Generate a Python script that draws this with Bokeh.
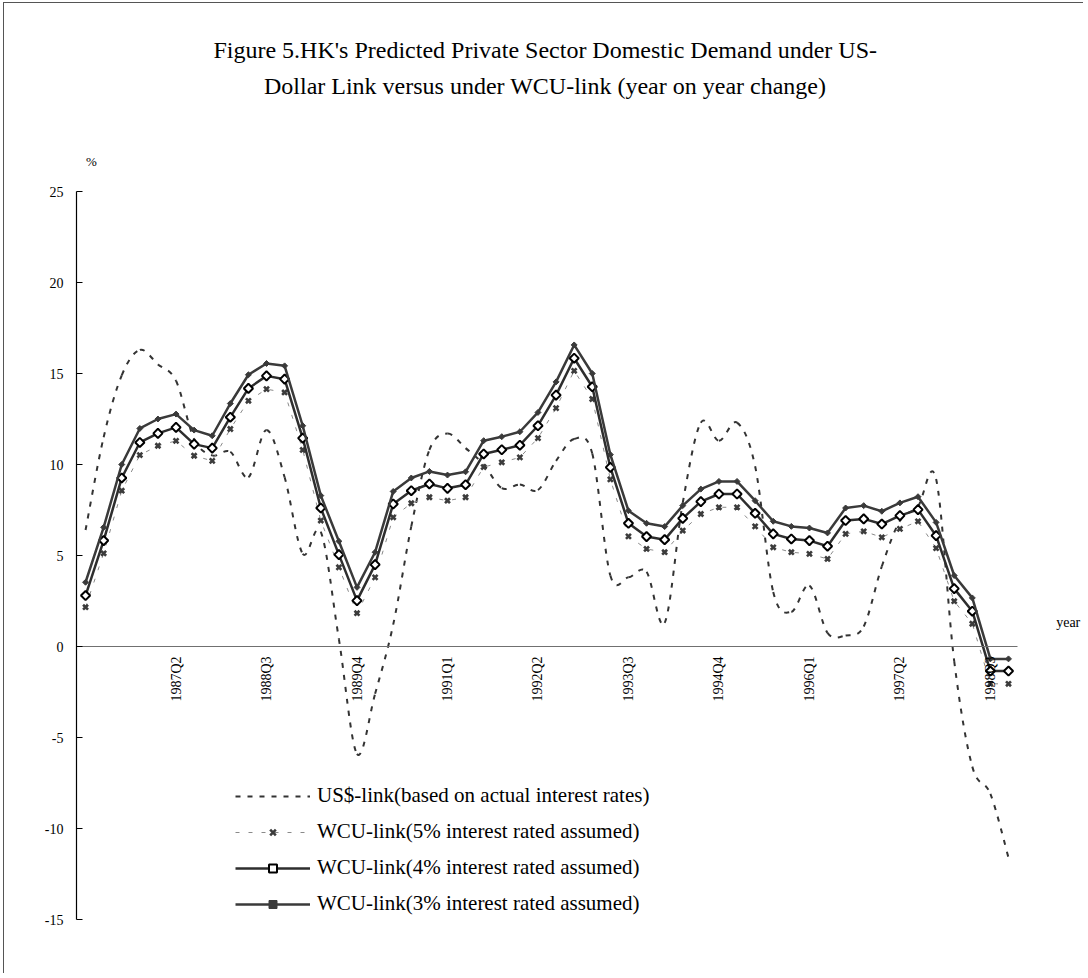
import math
from bokeh.plotting import figure
from bokeh.models import Range1d, FixedTicker, Label, Legend, LegendItem, ColumnDataSource
from bokeh.embed import file_html
from bokeh.resources import INLINE

# ---------------- data ----------------
quarters = [f"{yr}Q{q}" for yr in range(1986, 1999) for q in range(1, 5)]  # 1986Q1 .. 1998Q4

tick_labels = ["1987Q2", "1988Q3", "1989Q4", "1991Q1", "1992Q2",
               "1993Q3", "1994Q4", "1996Q1", "1997Q2", "1998Q3"]

us_link = [6.4, 11.5, 14.9, 16.3, 15.5, 14.6, 11.4, 10.5, 10.7, 9.3,
           11.9, 9.3, 5.1, 6.3, 0.4, -5.9, -2.6, 1.2, 6.6, 10.8,
           11.7, 10.9, 10.0, 8.7, 8.9, 8.6, 10.2, 11.4, 10.6, 3.9,
           3.8, 4.1, 1.3, 7.9, 12.3, 11.3, 12.3, 9.9, 3.0, 1.9,
           3.35, 0.75, 0.6, 1.1, 4.4, 6.9, 7.7, 9.2, -0.8, -6.6,
           -8.1, -11.6]

wcu_5 = [2.16, 5.12, 8.56, 10.52, 11.03, 11.3, 10.48, 10.2, 11.95, 13.5,
         14.14, 13.96, 10.8, 6.92, 4.35, 1.83, 3.8, 7.1, 7.87, 8.2,
         8.01, 8.2, 9.86, 10.12, 10.39, 11.45, 13.1, 15.15, 13.6, 9.18,
         6.05, 5.36, 5.18, 6.37, 7.28, 7.65, 7.65, 6.6, 5.45, 5.18,
         5.09, 4.81, 6.19, 6.33, 6.0, 6.46, 6.88, 5.4, 2.49, 1.25,
         -2.05, -2.05]

wcu_4 = [2.8, 5.82, 9.26, 11.21, 11.71, 12.04, 11.12, 10.9, 12.6, 14.18,
         14.87, 14.69, 11.45, 7.61, 5.05, 2.52, 4.5, 7.83, 8.56, 8.93,
         8.69, 8.89, 10.58, 10.81, 11.06, 12.13, 13.81, 15.84, 14.27, 9.84,
         6.77, 6.04, 5.87, 7.04, 7.96, 8.38, 8.38, 7.32, 6.19, 5.91,
         5.82, 5.51, 6.92, 7.01, 6.73, 7.19, 7.52, 6.09, 3.18, 1.94,
         -1.35, -1.35]

wcu_3 = [3.53, 6.55, 10.0, 11.98, 12.5, 12.77, 11.89, 11.58, 13.35, 14.93,
         15.55, 15.42, 12.13, 8.29, 5.78, 3.25, 5.18, 8.52, 9.26, 9.62,
         9.42, 9.6, 11.31, 11.53, 11.8, 12.86, 14.54, 16.57, 15.0, 10.54,
         7.46, 6.77, 6.59, 7.74, 8.65, 9.07, 9.07, 8.01, 6.88, 6.6,
         6.51, 6.24, 7.61, 7.74, 7.43, 7.89, 8.23, 6.82, 3.9, 2.67,
         -0.68, -0.68]

series_names = ["US$-link(based on actual interest rates)",
                "WCU-link(5% interest rated assumed)",
                "WCU-link(4% interest rated assumed)",
                "WCU-link(3% interest rated assumed)"]

title_lines = ["Figure 5.HK's Predicted Private Sector Domestic Demand under US-",
               "Dollar Link versus under WCU-link (year on year change)"]

y_ticks = [-15, -10, -5, 0, 5, 10, 15, 20, 25]

# ---------------- figure ----------------
FONT = "Liberation Serif"
xs = list(range(len(quarters)))
x_lo, x_hi = -0.5, len(quarters) - 0.5

# the frame is extended above and to the right so that title / unit texts sit inside it;
# the axes themselves are bounded to the data area
p = figure(width=1080, height=971, output_backend="svg", toolbar_location=None,
           x_range=Range1d(x_lo, 55.2), y_range=Range1d(-15, 35.33),
           min_border_left=72, min_border_right=0, min_border_top=0, min_border_bottom=55)
p.styles = {"border-left": "1px solid #555555", "border-top": "1px solid #555555",
            "margin-left": "3px", "margin-top": "2px"}
p.outline_line_color = None
p.xgrid.visible = False
p.ygrid.visible = False
p.background_fill_color = "white"
p.border_fill_color = "white"

# y axis
p.yaxis.bounds = (y_ticks[0], y_ticks[-1])
p.yaxis.ticker = FixedTicker(ticks=y_ticks)
p.yaxis.major_label_overrides = {t: str(t) for t in y_ticks}
p.yaxis.major_tick_in = 6
p.yaxis.major_tick_out = 0
p.yaxis.minor_tick_line_color = None
p.yaxis.major_label_standoff = 13
p.yaxis.major_label_text_font = FONT
p.yaxis.major_label_text_font_size = "14px"
p.yaxis.major_label_text_color = "#000000"
p.yaxis.axis_line_color = "#000000"
p.yaxis.axis_line_width = 1.2
p.yaxis.major_tick_line_color = "#000000"

# x axis crossing at zero
tick_pos = [quarters.index(t) for t in tick_labels]
p.xaxis.fixed_location = 0
p.xaxis.bounds = (x_lo, x_hi)
p.xaxis.ticker = FixedTicker(ticks=tick_pos)
p.xaxis.major_label_overrides = {pos: lab for pos, lab in zip(tick_pos, tick_labels)}
p.xaxis.major_label_orientation = math.pi / 2
p.xaxis.major_tick_in = 0
p.xaxis.major_tick_out = 0
p.xaxis.minor_tick_line_color = None
p.xaxis.major_label_standoff = 10
p.xaxis.major_label_text_font = FONT
p.xaxis.major_label_text_font_size = "14px"
p.xaxis.major_label_text_color = "#000000"
p.xaxis.axis_line_color = "#707070"
p.xaxis.axis_line_width = 1

# ---------------- series ----------------
# US$-link: smoothed dashed curve (cubic Bezier segments through the data points)
n = len(us_link)
bx0, by0, bx1, by1, bcx0, bcy0, bcx1, bcy1 = [], [], [], [], [], [], [], []
for i in range(n - 1):
    ip = i - 1 if i > 0 else i
    inn = i + 2 if i + 2 < n else i + 1
    bx0.append(xs[i]); by0.append(us_link[i])
    bx1.append(xs[i + 1]); by1.append(us_link[i + 1])
    bcx0.append(xs[i] + (xs[i + 1] - xs[ip]) / 6.0)
    bcy0.append(us_link[i] + (us_link[i + 1] - us_link[ip]) / 6.0)
    bcx1.append(xs[i + 1] - (xs[inn] - xs[i]) / 6.0)
    bcy1.append(us_link[i + 1] - (us_link[inn] - us_link[i]) / 6.0)
bez_src = ColumnDataSource(dict(x0=bx0, y0=by0, x1=bx1, y1=by1,
                                cx0=bcx0, cy0=bcy0, cx1=bcx1, cy1=bcy1))
r_us = p.bezier(x0="x0", y0="y0", x1="x1", y1="y1", cx0="cx0", cy0="cy0",
                cx1="cx1", cy1="cy1", source=bez_src,
                line_color="#333333", line_width=2, line_dash="5 7")

# WCU 5%
r5l = p.line(xs, wcu_5, line_color="#8a8a8a", line_width=1, line_dash="4 9")
r5m = p.scatter(xs, wcu_5, marker="x", size=7, line_color="#3c3c3c", line_width=2.6)

# WCU 4%
r4l = p.line(xs, wcu_4, line_color="#2e2e2e", line_width=2.5)
r4m = p.scatter(xs, wcu_4, marker="square", angle=math.pi / 4, size=6.5,
                fill_color="white", line_color="#000000", line_width=2)

# WCU 3%
r3l = p.line(xs, wcu_3, line_color="#3a3a3a", line_width=2.5)
r3m = p.scatter(xs, wcu_3, marker="square", angle=math.pi / 4, size=4.2,
                fill_color="#3a3a3a", line_color="#3a3a3a", line_width=1)

legend = Legend(items=[LegendItem(label=series_names[0], renderers=[r_us]),
                       LegendItem(label=series_names[1], renderers=[r5l, r5m]),
                       LegendItem(label=series_names[2], renderers=[r4l, r4m]),
                       LegendItem(label=series_names[3], renderers=[r3l, r3m])],
                location=(159, 3), orientation="vertical",
                glyph_width=75, glyph_height=20, spacing=11, padding=0, margin=0,
                label_standoff=7, label_text_font=FONT, label_text_font_size="21px",
                label_text_color="#000000", border_line_color=None,
                background_fill_alpha=0)
p.add_layout(legend)

# ---------------- texts ----------------
p.add_layout(Label(x=25.4, y=32.8, text=title_lines[0], text_align="center",
                   text_baseline="middle", text_font=FONT, text_font_size="24px",
                   text_color="#000000"))
p.add_layout(Label(x=25.4, y=30.77, text=title_lines[1], text_align="center",
                   text_baseline="middle", text_font=FONT, text_font_size="24px",
                   text_color="#000000"))
p.add_layout(Label(x=0.33, y=26.65, text="%", text_align="center",
                   text_baseline="middle", text_font=FONT, text_font_size="13px",
                   text_color="#000000"))
p.add_layout(Label(x=54.3, y=1.32, text="year", text_align="center",
                   text_baseline="middle", text_font=FONT, text_font_size="14px",
                   text_color="#000000"))

open("out.html", "w").write(file_html(p, INLINE))
